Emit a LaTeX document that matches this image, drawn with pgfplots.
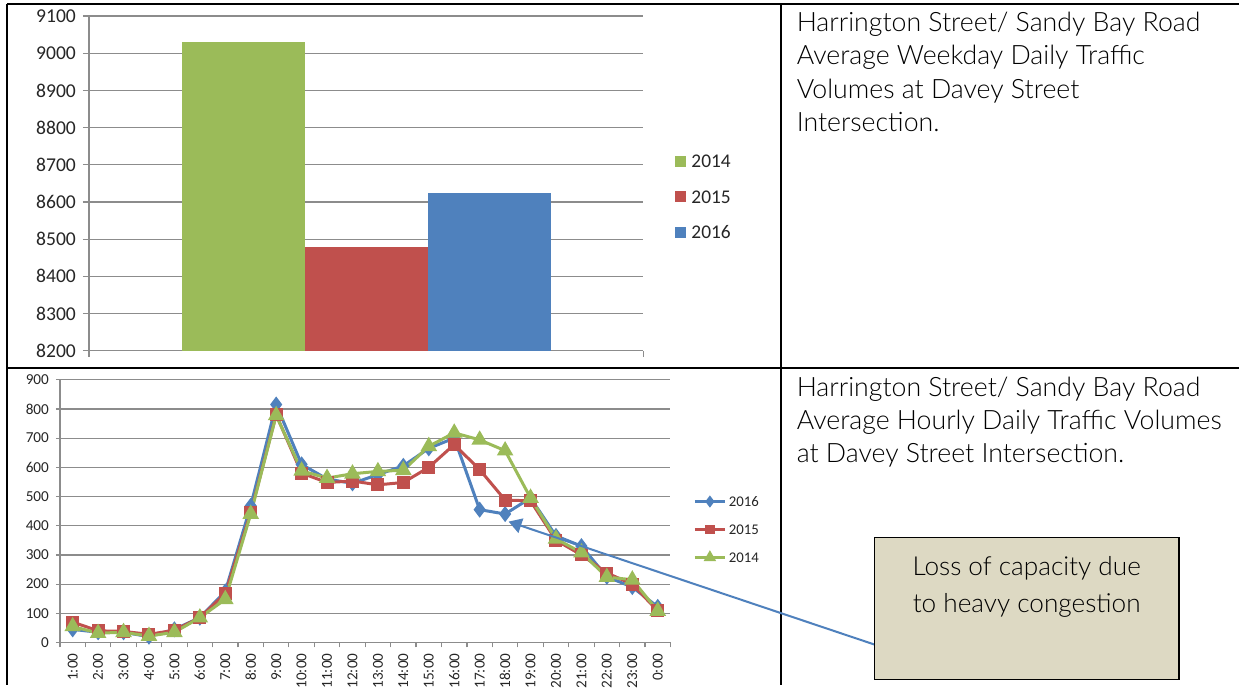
\documentclass[border=0pt]{standalone}
\usepackage{fontspec}
\setmainfont{Carlito}
\newfontfamily\gill{Lato Light}
\usepackage{pgfplots}
\pgfplotsset{compat=1.18}
\usetikzlibrary{arrows.meta}
\definecolor{cgreen}{HTML}{9BBB59}
\definecolor{cred}{HTML}{C0504D}
\definecolor{cblue}{HTML}{4F81BD}
\definecolor{cgrid}{HTML}{8C8C8C}
\definecolor{ctan}{HTML}{DDD9C3}
\definecolor{ctext}{HTML}{262626}
\begin{document}
\begin{tikzpicture}
\begin{scope}[x=0.5pt,y=-0.5pt]
\path[use as bounding box] (0,0) rectangle (1240,686);
\fill[white] (0,0) rectangle (1240,686);
\end{scope}

% ---------- bar chart ----------
\begin{axis}[
  at={(44.5pt,-175.5pt)}, anchor=south west,
  width=277.5pt, height=167.5pt, scale only axis,
  ymin=8200, ymax=9100, ytick={8200,8300,...,9100},
  xmin=-0.75, xmax=0.75, xtick={-0.75,0.75}, xticklabels={},
  axis lines*=left, axis line style={cgrid, line width=0.6pt},
  ymajorgrids, major grid style={cgrid, line width=0.6pt},
  tick align=outside, major tick length=3pt, tick style={cgrid, line width=0.6pt},
  yticklabel style={font=\fontsize{9.8}{10}\selectfont, text=ctext},
  /pgf/number format/assume math mode=true,
  /pgf/number format/1000 sep={},
  ybar, bar width=61.5pt,
  legend style={at={(1.0577,0.46)}, anchor=west, draw=none, fill=none,
    inner sep=0pt, outer sep=0pt, font=\fontsize{9.7}{11}\selectfont,
    text=ctext, row sep=11.25pt, column sep=2.5pt,
    nodes={inner sep=0pt, text height=6.5pt, text depth=0pt}},
  legend cell align=left,
  area legend,
  legend image code/.code={\path[#1,draw=none] (0pt,-2.75pt) rectangle (5.5pt,2.75pt);},
]
\addplot[fill=cgreen, draw=none, bar shift=-61.5pt] coordinates {(0,9030)};
\addplot[fill=cred, draw=none, bar shift=0pt] coordinates {(0,8480)};
\addplot[fill=cblue, draw=none, bar shift=61.5pt] coordinates {(0,8625)};
\legend{2014,2015,2016}
\end{axis}

% ---------- line chart ----------
\begin{axis}[
  at={(30pt,-321.5pt)}, anchor=south west,
  width=305.5pt, height=131.5pt, scale only axis,
  ymin=0, ymax=900, ytick={0,100,...,900},
  xmin=0.5, xmax=24.5, xtick={1,...,24},
  xticklabels={1:00,2:00,3:00,4:00,5:00,6:00,7:00,8:00,9:00,10:00,11:00,12:00,13:00,14:00,15:00,16:00,17:00,18:00,19:00,20:00,21:00,22:00,23:00,0:00},
  xticklabel style={rotate=90, anchor=east, font=\fontsize{7.6}{8}\selectfont, text=ctext},
  minor xtick={0.5,1.5,...,24.5},
  major x tick style=transparent,
  axis lines*=left, axis line style={cgrid, line width=0.6pt},
  ymajorgrids, major grid style={cgrid, line width=0.6pt},
  tick align=outside, major tick length=2pt, minor tick length=2.5pt,
  tick style={cgrid, line width=0.6pt},
  yticklabel style={font=\fontsize{7.6}{8}\selectfont, text=ctext},
  /pgf/number format/assume math mode=true,
  legend style={at={(1.0376,0.43)}, anchor=west, draw=none, fill=none,
    inner sep=0pt, outer sep=0pt, font=\fontsize{7.4}{8}\selectfont,
    text=ctext, row sep=9pt, column sep=1.2pt,
    nodes={inner sep=0pt, text height=5pt, text depth=0pt}},
  legend cell align=left,
  legend image code/.code={\draw[#1,mark repeat=2,mark phase=2,every mark/.append style={scale=0.65}] plot coordinates {(0pt,0pt)(7.5pt,0pt)(15pt,0pt)};},
]
\addplot[cblue, line width=1.5pt, mark=diamond*, mark size=2.8pt, mark options={solid}] coordinates {
(1,45)(2,35)(3,35)(4,20)(5,45)(6,85)(7,175)(8,468)(9,815)(10,610)(11,560)(12,545)
(13,575)(14,605)(15,665)(16,700)(17,455)(18,440)(19,495)(20,365)(21,330)(22,225)(23,190)(24,122)};
\addplot[cred, line width=1.5pt, mark=square*, mark size=2.5pt, mark options={solid}] coordinates {
(1,70)(2,40)(3,38)(4,28)(5,42)(6,85)(7,168)(8,445)(9,780)(10,580)(11,548)(12,553)
(13,540)(14,548)(15,600)(16,678)(17,592)(18,488)(19,485)(20,350)(21,300)(22,238)(23,200)(24,108)};
\addplot[cgreen, line width=1.5pt, mark=triangle*, mark size=3.3pt, mark options={solid}] coordinates {
(1,55)(2,32)(3,35)(4,22)(5,35)(6,85)(7,148)(8,440)(9,778)(10,588)(11,563)(12,578)
(13,586)(14,590)(15,672)(16,718)(17,694)(18,657)(19,495)(20,355)(21,308)(22,224)(23,215)(24,108)};
\legend{2016,2015,2014}
\end{axis}

\begin{scope}[x=0.5pt,y=-0.5pt]
% table lines
\draw[black, line width=1pt] (7,4) -- (1240,4);
\draw[black, line width=1pt] (7,368) -- (1240,368);
\draw[black, line width=1pt] (7,4) -- (7,686);
\draw[black, line width=1pt] (782,4) -- (782,686);
% texts
\begin{scope}[every node/.style={anchor=base west, inner sep=0pt, text=black, font=\gill\fontsize{13.35}{16}\selectfont}]
\node at (797,32) {Harrington Street/ Sandy Bay Road};
\node at (797,65) {Average Weekday Daily Traffic};
\node at (797,99) {Volumes at Davey Street};
\node at (797,132) {Intersection.};
\node at (797,397) {Harrington Street/ Sandy Bay Road};
\node at (797,430) {Average Hourly Daily Traffic Volumes};
\node at (797,463) {at Davey Street Intersection.};
\end{scope}
% callout
\draw[cblue, line width=1pt, -{Triangle[length=6.5pt,width=7.5pt]}] (875,645) -- (509,522);
\draw[black, line width=0.7pt, fill=ctan] (875,538) rectangle (1180,680);
\node[anchor=base, inner sep=0pt, text=black, font=\gill\fontsize{13.1}{16}\selectfont] at (1027.5,576) {Loss of capacity due};
\node[anchor=base, inner sep=0pt, text=black, font=\gill\fontsize{13.1}{16}\selectfont] at (1027.5,613) {to heavy congestion};
\end{scope}
\end{tikzpicture}
\end{document}
